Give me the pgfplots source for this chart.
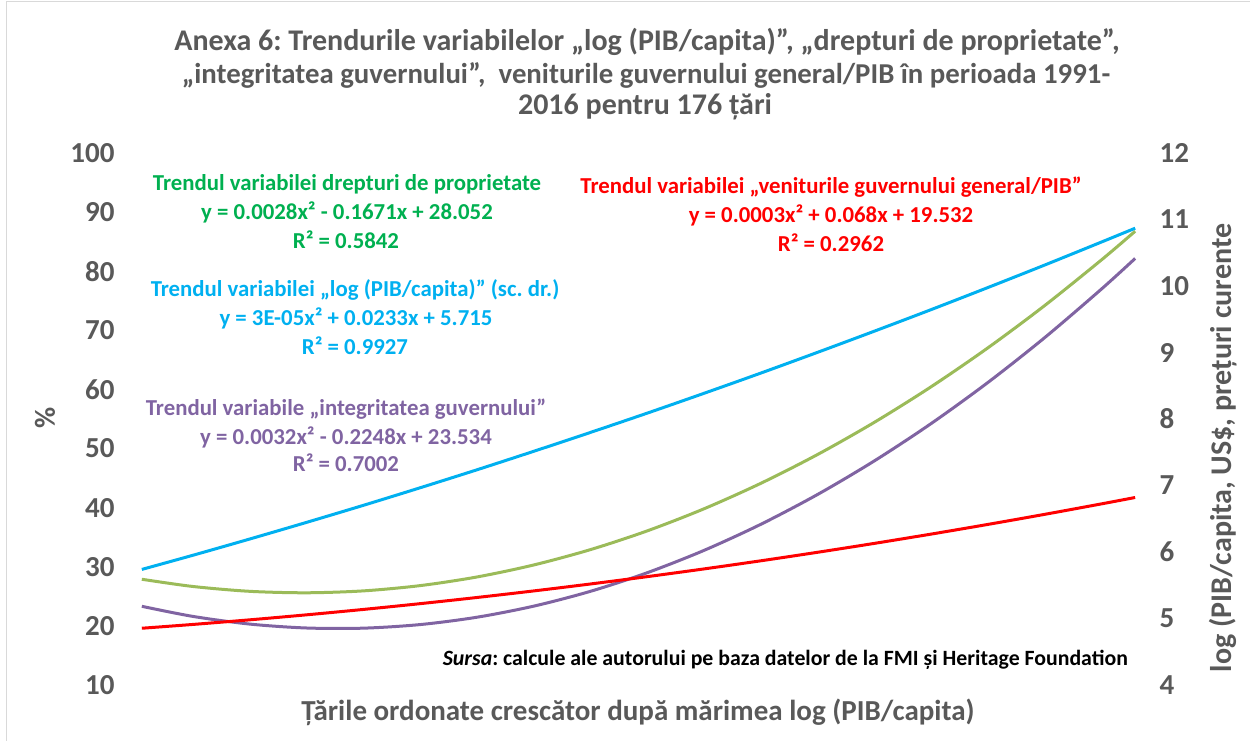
\documentclass[border=0pt]{standalone}
\usepackage{pgfplots}
\pgfplotsset{compat=1.18}
\usepackage{fontspec}
\setmainfont{Carlito}
\frenchspacing
\definecolor{txtgray}{HTML}{595959}
\definecolor{tgreen}{HTML}{00B050}
\definecolor{tblue}{HTML}{00B0F0}
\definecolor{tpurple}{HTML}{8064A2}
\definecolor{tred}{HTML}{FF0000}
\definecolor{lgreen}{HTML}{9BBB59}
\begin{document}
\begin{tikzpicture}[x=1pt,y=1pt]
\useasboundingbox (0,0) rectangle (1250,741);
\draw[black!15, line width=1pt] (6,0) -- (6,739.5) -- (1250,739.5);
\begin{axis}[at={(139pt,56pt)}, anchor=south west, scale only axis,
  width=999pt, height=532pt, xmin=0.5, xmax=176.5, ymin=10, ymax=100,
  axis line style={draw=none}, xtick=\empty, ytick={10,20,...,100},
  major tick length=0pt, clip=false,
  /pgf/number format/assume math mode=true,
  yticklabel style={font=\bfseries\fontsize{29}{29}\selectfont, text=txtgray, xshift=-21pt}]
\addplot[lgreen, line width=3pt, smooth, no markers] coordinates {
(1,27.888) (10,26.666) (20,25.848) (30,25.600) (40,25.920) (50,26.810) (60,28.268) (70,30.296) (80,32.892) (90,36.058) (100,39.792) (110,44.096) (120,48.968) (130,54.410) (140,60.420) (150,67.000) (160,74.148) (170,81.866) (176,86.769)};
\addplot[tpurple, line width=3pt, smooth, no markers] coordinates {
(1,23.312) (10,21.603) (20,20.306) (30,19.643) (40,19.614) (50,20.219) (60,21.458) (70,23.331) (80,25.838) (90,28.979) (100,32.754) (110,37.163) (120,42.206) (130,47.883) (140,54.194) (150,61.139) (160,68.718) (170,76.931) (176,82.163)};
\addplot[tred, line width=3pt, smooth, no markers] coordinates {
(1,19.600) (10,20.245) (20,21.024) (30,21.869) (40,22.780) (50,23.757) (60,24.800) (70,25.909) (80,27.084) (90,28.325) (100,29.632) (110,31.005) (120,32.444) (130,33.949) (140,35.520) (150,37.157) (160,38.860) (170,40.629) (176,41.722)};
\end{axis}
\begin{axis}[at={(139pt,56pt)}, anchor=south west, scale only axis,
  width=999pt, height=532pt, xmin=0.5, xmax=176.5, ymin=4, ymax=12,
  axis y line*=right, axis x line=none, axis line style={draw=none},
  xtick=\empty, ytick={4,5,...,12},
  major tick length=0pt, clip=false,
  /pgf/number format/assume math mode=true,
  yticklabel style={font=\bfseries\fontsize{29}{29}\selectfont, text=txtgray, xshift=18pt}]
\addplot[tblue, line width=3pt, smooth, no markers] coordinates {
(1,5.738) (10,5.951) (20,6.195) (30,6.445) (40,6.701) (50,6.965) (60,7.235) (70,7.513) (80,7.797) (90,8.087) (100,8.385) (110,8.689) (120,9.001) (130,9.319) (140,9.643) (150,9.975) (160,10.313) (170,10.659) (176,10.869)};
\end{axis}
% titles
\begin{scope}[every node/.style={font=\bfseries\fontsize{30}{30}\selectfont, text=txtgray, inner sep=0pt}]
\node at (647,699) {Anexa 6: Trendurile variabilelor „log (PIB/capita)”, „drepturi de proprietate”,};
\node[font=\bfseries\fontsize{28.8}{28.8}\selectfont] at (646,666) {„integritatea guvernului”,\ \ veniturile guvernului general/PIB în perioada 1991-};
\node at (645,634) {2016 pentru 176 țări};
\end{scope}
\node[font=\bfseries\fontsize{29}{29}\selectfont, text=txtgray, inner sep=0pt] at (638,29) {Țările ordonate crescător după mărimea log (PIB/capita)};
\node[font=\bfseries\fontsize{29}{29}\selectfont, text=txtgray, inner sep=0pt, rotate=90] at (45,323) {\%};
\node[font=\bfseries\fontsize{30}{30}\selectfont, text=txtgray, inner sep=0pt, rotate=90] at (1223,293) {log (PIB/capita, US\$, prețuri curente};
\node[font=\bfseries\fontsize{21.8}{21.8}\selectfont, text=black, inner sep=0pt, anchor=east] at (1128,81) {\textit{Sursa}: calcule ale autorului pe baza datelor de la FMI și Heritage Foundation};
% annotations
\begin{scope}[every node/.style={font=\bfseries\fontsize{22.8}{22.8}\selectfont, inner sep=0pt}]
\node[text=tgreen] at (347,557) {Trendul variabilei drepturi de proprietate};
\node[text=tgreen] at (347,529) {y = 0.0028x² - 0.1671x + 28.052};
\node[text=tgreen] at (346,501) {R² = 0.5842};
\node[text=tblue] at (355,451) {Trendul variabilei „log (PIB/capita)” (sc. dr.)};
\node[text=tblue] at (356,423) {y = 3E-05x² + 0.0233x + 5.715};
\node[text=tblue] at (355,395) {R² = 0.9927};
\node[text=tpurple] at (346,332) {Trendul variabile „integritatea guvernului”};
\node[text=tpurple] at (346,304) {y = 0.0032x² - 0.2248x + 23.534};
\node[text=tpurple] at (346,278) {R² = 0.7002};
\node[text=tred] at (831,554) {Trendul variabilei „veniturile guvernului general/PIB”};
\node[text=tred] at (831,526) {y = 0.0003x² + 0.068x + 19.532};
\node[text=tred] at (831,498) {R² = 0.2962};
\end{scope}
\end{tikzpicture}
\end{document}
